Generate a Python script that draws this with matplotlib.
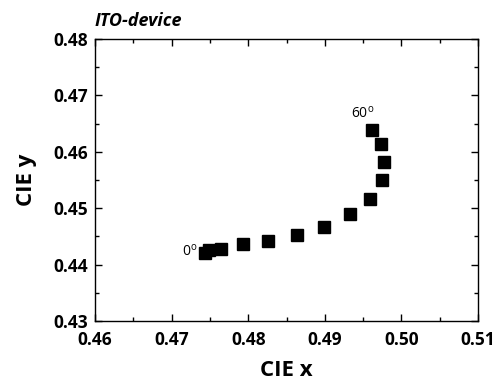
import numpy as np
import matplotlib.pyplot as plt
from matplotlib.ticker import MultipleLocator

cie_x = [0.4743, 0.4749, 0.4765, 0.4793, 0.4826, 0.4864, 0.4899,
         0.4933, 0.4959, 0.4975, 0.4977, 0.4973, 0.4962]
cie_y = [0.4420, 0.4426, 0.4428, 0.4436, 0.4442, 0.4452, 0.4467,
         0.4489, 0.4516, 0.4550, 0.4582, 0.4613, 0.4639]

plt.rcParams['font.family'] = ['Open Sans', 'DejaVu Sans']
plt.rcParams['mathtext.default'] = 'regular'

fig = plt.figure(figsize=(4.99, 3.89), dpi=100)
ax = fig.add_axes([0.1904, 0.1748, 0.7675, 0.725])

ax.plot(cie_x, cie_y, 's', color='black', markersize=8, linestyle='none')

ax.text(cie_x[0] - 0.0009, cie_y[0] + 0.0003, '0$^{o}$', fontsize=10, ha='right', va='center')
ax.text(cie_x[-1] + 0.0002, cie_y[-1] + 0.0015, '60$^{o}$', fontsize=10, ha='right', va='bottom')

ax.set_xlim(0.46, 0.51)
ax.set_ylim(0.43, 0.48)
ax.xaxis.set_major_locator(MultipleLocator(0.01))
ax.xaxis.set_minor_locator(MultipleLocator(0.005))
ax.yaxis.set_major_locator(MultipleLocator(0.01))
ax.yaxis.set_minor_locator(MultipleLocator(0.005))
ax.xaxis.set_major_formatter(plt.FormatStrFormatter('%.2f'))
ax.yaxis.set_major_formatter(plt.FormatStrFormatter('%.2f'))
ax.tick_params(which='both', direction='in', top=True, right=True, width=1)
ax.tick_params(which='major', length=5, labelsize=12.5)
ax.tick_params(axis='x', which='major', pad=7)
ax.tick_params(axis='y', which='major', pad=5)
ax.tick_params(which='minor', length=3)
for lab in ax.get_xticklabels() + ax.get_yticklabels():
    lab.set_fontweight('bold')
for sp in ax.spines.values():
    sp.set_linewidth(1)

ax.set_xlabel('CIE x', fontsize=16, fontweight='bold', labelpad=8)
ax.set_ylabel('CIE y', fontsize=16, fontweight='bold', labelpad=12)
ax.set_title('ITO-device', fontsize=13, fontweight='bold', style='italic', loc='left', pad=9)

fig.savefig('out.png', dpi=100)
